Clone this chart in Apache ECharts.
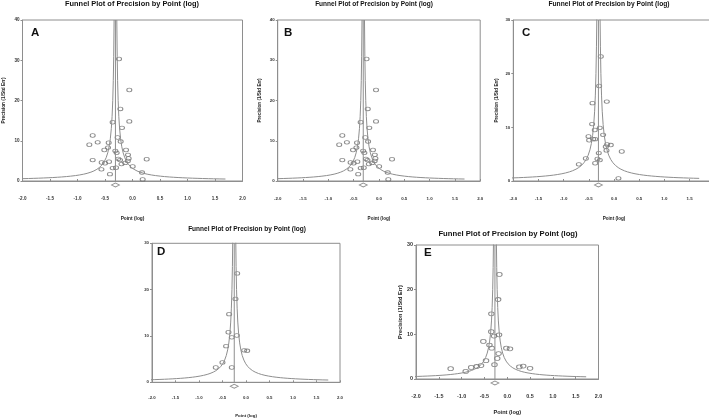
<!DOCTYPE html>
<html><head><meta charset="utf-8">
<script src="https://cdn.jsdelivr.net/npm/echarts@6/dist/echarts.min.js"></script>
<style>html,body{margin:0;padding:0;background:#fff}#chart{width:709px;height:418px}</style>
</head><body><div id="chart"></div>
<script>
// ---------------- data ----------------
const panelLetters = ['A', 'B', 'C', 'D', 'E'];
const chartTitle = 'Funnel Plot of Precision by Point (log)';
const xAxisName = 'Point (log)';
const yAxisName = 'Precision (1/Std Err)';
const xTickMin = -2, xTickMax = 2, xTickStep = 0.5;
const yAxisMax = [40, 40, 30, 30, 30];
const yTickStep = 10;
// pooled (summary) log point estimate of each panel
const summaryPoint = [-0.31, -0.31, -0.31, -0.25, -0.27];
// pseudo confidence limit multiplier of the funnel (limit = summary +/- z / precision)
const funnelZ = 0.98;
const funnelPrecision = [0.49, 0.52, 0.55, 0.58, 0.62, 0.66, 0.7, 0.75, 0.8, 0.86, 0.93, 1, 1.1, 1.2, 1.35, 1.5, 1.7, 1.9, 2.2, 2.5, 2.9, 3.4, 4, 4.8, 5.8, 7, 8.5, 10.5, 13, 16, 20, 25, 31, 40];

// studies: [point (log), precision]
const studiesAB = [
  [-0.245, 30.3], [-0.058, 22.6], [-0.221, 17.9], [-0.058, 14.8], [-0.361, 14.6],
  [-0.191, 13.2], [-0.724, 11.3], [-0.633, 9.6], [-0.785, 9.0], [-0.27, 10.8],
  [-0.215, 9.8], [-0.433, 9.5], [-0.445, 8.3], [-0.512, 7.7], [-0.312, 7.5],
  [-0.288, 7.0], [-0.118, 7.7], [-0.082, 6.5], [-0.07, 5.6], [0.258, 5.4],
  [-0.724, 5.2], [-0.258, 5.5], [-0.227, 5.2], [-0.56, 4.6], [-0.5, 4.4],
  [-0.427, 4.8], [-0.2, 4.2], [-0.133, 4.5], [-0.085, 5.0], [0.003, 3.6],
  [-0.565, 2.9], [-0.36, 3.2], [-0.3, 3.3], [-0.41, 1.7], [0.173, 2.1], [0.185, 0.4]
];
const studiesC = [
  [-0.263, 23.2], [-0.296, 17.7], [-0.144, 14.8], [-0.428, 14.5], [-0.435, 10.6],
  [-0.283, 9.9], [-0.382, 9.5], [-0.217, 8.6], [-0.507, 8.3], [-0.494, 7.6],
  [-0.415, 7.8], [-0.375, 7.8], [-0.137, 6.8], [-0.065, 6.7], [-0.164, 6.4],
  [-0.15, 5.7], [0.153, 5.5], [-0.303, 5.2], [-0.329, 4.1], [-0.283, 3.9],
  [-0.56, 4.2], [-0.699, 3.1], [-0.375, 3.3], [0.087, 0.5]
];
const studiesD = [
  [-0.188, 23.5], [-0.224, 18.0], [-0.359, 14.7], [-0.373, 10.8], [-0.302, 9.7],
  [-0.195, 10.1], [-0.423, 7.8], [-0.039, 6.9], [0.025, 6.8], [-0.501, 4.3],
  [-0.643, 3.2], [-0.302, 3.2]
];
const studiesE = [
  [-0.173, 23.4], [-0.2, 17.8], [-0.348, 14.6], [-0.35, 10.6], [-0.18, 9.9],
  [-0.29, 9.6], [-0.524, 8.4], [-0.39, 7.6], [-0.34, 6.9], [-0.02, 6.9],
  [0.06, 6.75], [-0.19, 5.7], [-0.22, 4.6], [-0.465, 4.1], [-0.28, 3.2],
  [-0.575, 3.0], [-0.67, 2.8], [-0.79, 2.6], [-0.91, 1.7], [-1.24, 2.3],
  [0.265, 2.7], [0.35, 2.9], [0.5, 2.4]
];
const panelStudies = [studiesAB, studiesAB, studiesC, studiesD, studiesE];

// ---------------- layout / style ----------------
const FONT = 'Liberation Sans, Arial, sans-serif';
const LINE = '#8e8e8e';
const layout = [
  { grid: { left: 22.5, top: 20, width: 220, height: 161 }, titleX: 132, titleY: 4, titleSize: 7.4,
    letter: [31, 27], tick: 4.6, xMargin: 15.5, xGap: 35, yGap: 16, name: 4.8, yName: true, sym: [5, 3.6] },
  { grid: { left: 277.7, top: 20, width: 202.5, height: 161 }, titleX: 374, titleY: 4, titleSize: 6.5,
    letter: [284, 27], tick: 4.4, xMargin: 15.5, xGap: 35, yGap: 15, name: 4.6, yName: true, sym: [5, 3.6] },
  { grid: { left: 513.3, top: 20, width: 201.5, height: 161 }, titleX: 609, titleY: 4.5, titleSize: 6.7,
    letter: [522, 27], tick: 4.4, xMargin: 15.5, xGap: 35, yGap: 14, name: 4.6, yName: true, sym: [5, 3.6] },
  { grid: { left: 152, top: 243.3, width: 188, height: 139 }, titleX: 247, titleY: 229, titleSize: 6.5,
    letter: [157, 246], tick: 4.3, xMargin: 13.5, xGap: 31, yGap: 14, name: 4.4, yName: false, sym: [5, 3.6] },
  { grid: { left: 416, top: 245, width: 182.5, height: 134 }, titleX: 508, titleY: 234, titleSize: 7.7,
    letter: [424, 247], tick: 5.4, xMargin: 15, xGap: 30, yGap: 11, name: 5.6, yName: true, sym: [5.5, 4] }
];

const ellipse = 'path://M0,5A5,5,0,1,1,10,5A5,5,0,1,1,0,5Z';

const grids = [], xAxes = [], yAxes = [], series = [], graphics = [];
layout.forEach((L, i) => {
  grids.push(Object.assign({ show: true, borderColor: LINE, borderWidth: 1, backgroundColor: 'transparent',
    containLabel: false, outerBoundsMode: 'none' }, L.grid));
  xAxes.push({
    type: 'value', gridIndex: i, min: xTickMin, max: xTickMax, interval: xTickStep,
    name: xAxisName, nameLocation: 'middle', nameGap: L.xGap,
    nameTextStyle: { fontFamily: FONT, fontSize: L.name, fontWeight: 'bold', color: '#222' },
    axisLine: { show: true, onZero: false, lineStyle: { color: LINE, width: 1 } },
    axisTick: { show: true, inside: true, length: 2, lineStyle: { color: LINE } },
    axisLabel: { fontFamily: FONT, fontSize: L.tick, fontWeight: 'bold', color: '#333', margin: L.xMargin,
      formatter: v => v.toFixed(1), showMinLabel: true, showMaxLabel: true, hideOverlap: false },
    splitLine: { show: false }
  });
  yAxes.push({
    type: 'value', gridIndex: i, min: 0, max: yAxisMax[i], interval: yTickStep,
    name: L.yName ? yAxisName : '', nameLocation: 'middle', nameGap: L.yGap,
    nameTextStyle: { fontFamily: FONT, fontSize: L.name, fontWeight: 'bold', color: '#222' },
    axisLine: { show: true, onZero: false, lineStyle: { color: LINE, width: 1 } },
    axisTick: { show: true, inside: false, length: 2, lineStyle: { color: LINE } },
    axisLabel: { fontFamily: FONT, fontSize: L.tick, fontWeight: 'bold', color: '#333', margin: 3 },
    splitLine: { show: false }
  });
  const m = summaryPoint[i];
  series.push({
    type: 'line', xAxisIndex: i, yAxisIndex: i, showSymbol: false, symbol: 'none', silent: true, clip: true,
    lineStyle: { color: LINE, width: 1 },
    data: funnelPrecision.map(p => [m - funnelZ / p, p])
  });
  series.push({
    type: 'line', xAxisIndex: i, yAxisIndex: i, showSymbol: false, symbol: 'none', silent: true, clip: true,
    lineStyle: { color: LINE, width: 1 },
    data: funnelPrecision.map(p => [m + funnelZ / p, p])
  });
  series.push({
    type: 'line', xAxisIndex: i, yAxisIndex: i, showSymbol: false, symbol: 'none', silent: true,
    lineStyle: { color: LINE, width: 1 },
    data: [[m, 0], [m, yAxisMax[i]]]
  });
  series.push({
    type: 'scatter', xAxisIndex: i, yAxisIndex: i, silent: true, clip: false,
    symbol: ellipse, symbolSize: L.sym,
    itemStyle: { color: 'rgba(255,255,255,0)', borderColor: '#6e6e6e', borderWidth: 0.9 },
    data: panelStudies[i]
  });
  series.push({
    type: 'scatter', xAxisIndex: i, yAxisIndex: i, silent: true, clip: false,
    symbol: 'diamond', symbolSize: [8, 4], symbolOffset: [0, 4],
    itemStyle: { color: 'rgba(255,255,255,0)', borderColor: '#6e6e6e', borderWidth: 0.9 },
    data: [[m, 0]]
  });
  graphics.push({
    type: 'text', x: L.titleX, y: L.titleY, silent: true,
    style: { text: chartTitle, font: 'bold ' + L.titleSize + 'px ' + FONT, fill: '#111',
      textAlign: 'center', textVerticalAlign: 'middle', align: 'center', verticalAlign: 'middle' }
  });
  graphics.push({
    type: 'text', x: L.letter[0], y: L.letter[1], silent: true,
    style: { text: panelLetters[i], font: 'bold 11.5px ' + FONT, fill: '#111',
      textAlign: 'left', textVerticalAlign: 'top', align: 'left', verticalAlign: 'top' }
  });
});

const chart = echarts.init(document.getElementById('chart'), null, { renderer: 'canvas' });
chart.setOption({
  animation: false,
  backgroundColor: '#fff',
  grid: grids, xAxis: xAxes, yAxis: yAxes, series: series, graphic: graphics
});
</script>
</body></html>
